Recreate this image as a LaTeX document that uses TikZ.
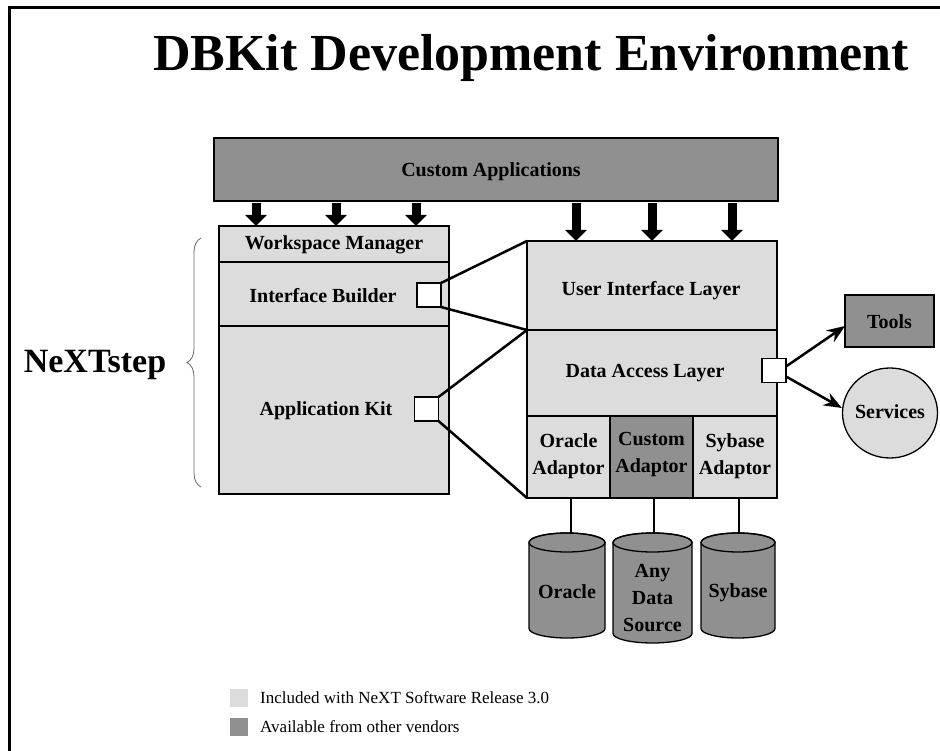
\documentclass[tikz,border=0pt]{standalone}
\usepackage{fontspec}
\setmainfont{Liberation Serif}
\usetikzlibrary{arrows.meta,shapes.geometric,decorations.pathreplacing,calc}
\definecolor{lightg}{HTML}{DCDCDC}
\definecolor{darkg}{HTML}{909090}
\begin{document}
\begin{tikzpicture}[x=1pt,y=-1pt,
  box/.style={draw=black, line width=1.3pt, inner sep=0pt, outer sep=0pt, anchor=center},
  lbl/.style={font=\fontsize{20}{27}\selectfont\bfseries, align=center, inner sep=0pt},
  sq/.style={draw=black, line width=1.3pt, fill=white, inner sep=0pt, outer sep=0pt, minimum size=24},
  blk/.style={line width=9pt, -{Triangle[width=21pt,length=11pt]}},
  link/.style={line width=2.5pt},
  thinarrow/.style={line width=2.5pt, -{Stealth[length=18pt,width=14pt]}},
  cylfill/.style={fill=darkg, draw=black, line width=1.3pt}]
\useasboundingbox (0,0) rectangle (940,751);
% frame
\draw[line width=3pt] (9.5,751) -- (9.5,7.5) -- (940,7.5);
% title
\node[font=\fontsize{52}{60}\selectfont\bfseries, anchor=base, inner sep=0pt] (title) at (531,71) {DBKit Development Environment};
% custom applications
\node[box, fill=darkg, line width=1.8pt, minimum width=564, minimum height=63] (ca) at (496,169.5) {};
\node[lbl] (calbl) at (491,172) {Custom Applications};
% left stack
\node[box, fill=lightg, minimum width=230, minimum height=36] (wm) at (334,244) {};
\node[box, fill=lightg, minimum width=230, minimum height=64] (ib) at (334,294) {};
\node[box, fill=lightg, minimum width=230, minimum height=168] (ak) at (334,410) {};
\node[lbl] (wmlbl) at (334,245) {Workspace Manager};
\node[lbl] (iblbl) at (323,296) {Interface Builder};
\node[lbl] (aklbl) at (326,411) {Application Kit};
\node[sq] (ibsq) at (429,295) {};
\node[sq] (aksq) at (426.5,409) {};
% right stack
\node[box, fill=lightg, minimum width=250, minimum height=89] (ui) at (652,285.5) {};
\node[box, fill=lightg, minimum width=250, minimum height=86] (da) at (652,373) {};
\node[box, fill=lightg, minimum width=83, minimum height=82] (oa) at (568.5,457) {};
\node[box, fill=darkg, minimum width=83, minimum height=82] (cad) at (651.5,457) {};
\node[box, fill=lightg, minimum width=84, minimum height=82] (sa) at (735,457) {};
\node[lbl] (uilbl) at (651,291) {User Interface Layer};
\node[lbl] (dalbl) at (645,373) {Data Access Layer};
\node[lbl] (oalbl) at (568.5,456) {Oracle\\Adaptor};
\node[lbl] (cadlbl) at (651.5,455) {Custom\\Adaptor};
\node[lbl] (salbl) at (735,456) {Sybase\\Adaptor};
\node[sq] (dasq) at (774,370.5) {};
% arrows from custom applications
\foreach \x in {256,336,416}
  \draw[blk] (\x,0 |- ca.south) ++(0,2) -- (\x,0 |- wm.north);
\foreach \x in {576,652,732}
  \draw[blk] (\x,0 |- ca.south) ++(0,2) -- (\x,0 |- ui.north);
% links between squares and right stack
\draw[link] (ibsq.north east) -- (ui.north west);
\draw[link] (ibsq.south east) -- (ui.south west);
\draw[link] (aksq.north east) -- (da.north west);
\draw[link] (aksq.south east) -- (oa.south west);
% tools and services
\node[box, fill=darkg, minimum width=89, minimum height=52] (tools) at (889.5,321) {};
\node[lbl] (toolslbl) at (889.5,322) {Tools};
\node[ellipse, draw=black, line width=1.3pt, fill=lightg, inner sep=0pt, minimum width=95, minimum height=90] (serv) at (890,413) {};
\node[lbl] (servlbl) at (890,412) {Services};
\draw[thinarrow] ($(dasq.east)+(0,-4)$) -- ($(tools.west)+(0,5)$);
\draw[thinarrow] ($(dasq.east)+(0,6)$) -- ($(serv.west)+(0,-5)$);
% cylinders
\foreach \cx/\rx/\top/\bot in {567/38/533/638, 652.5/39.5/533/643, 738/37/533/638} {
  \filldraw[cylfill] (\cx-\rx, \top+9.5) -- (\cx-\rx, \bot-9.5)
     arc[start angle=180, end angle=0, x radius=\rx, y radius=9.5]
     -- (\cx+\rx, \top+9.5)
     arc[start angle=0, end angle=-180, x radius=\rx, y radius=9.5] -- cycle;
  \draw[line width=1.3pt] (\cx,\top+9.5) ellipse[x radius=\rx, y radius=9.5];
}
\coordinate (c1) at (571,534);
\coordinate (c2) at (654,534);
\coordinate (c3) at (739,534);
\draw[line width=1.3pt] (oa.south -| c1) -- (c1);
\draw[line width=1.3pt] (cad.south -| c2) -- (c2);
\draw[line width=1.3pt] (sa.south -| c3) -- (c3);
\node[lbl] (cyl1) at (567,592) {Oracle};
\node[lbl] (cyl2) at (652.5,598) {Any\\Data\\Source};
\node[lbl] (cyl3) at (738,593) {Sybase};
% brace and NeXTstep
\draw[decorate, decoration={brace, amplitude=14pt}, draw=black!60, line width=0.8pt] (201,487) -- (201,238);
\node[font=\fontsize{34}{40}\selectfont\bfseries, inner sep=0pt] (next) at (95,365) {NeXTstep};
% legend
\fill[lightg] (230,689) rectangle (248,707);
\fill[darkg] (230,718) rectangle (248,736);
\node[font=\fontsize{17}{20}\selectfont, anchor=west, inner sep=0pt] (leg1) at (260,698) {Included with NeXT Software Release 3.0};
\node[font=\fontsize{17}{20}\selectfont, anchor=west, inner sep=0pt] (leg2) at (260,727) {Available from other vendors};
\end{tikzpicture}
\end{document}
